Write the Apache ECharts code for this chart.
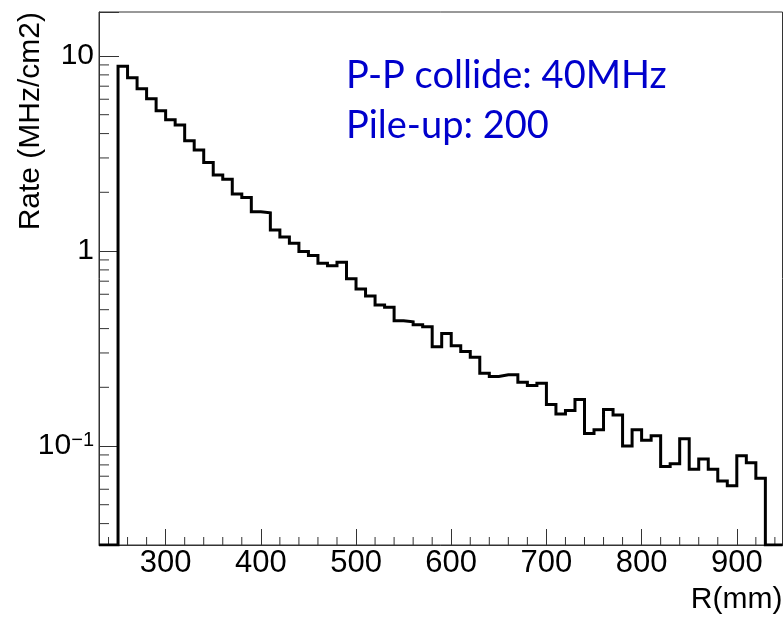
<!DOCTYPE html>
<html><head><meta charset="utf-8">
<script src="https://cdn.jsdelivr.net/npm/echarts@6/dist/echarts.min.js"></script>
<style>html,body{margin:0;padding:0;background:#fff}#c{width:784px;height:622px}</style>
</head><body><div id="c"></div>
<script>
// Bin lower edges (mm), bin width 10 mm
const binLow = [250,260,270,280,290,300,310,320,330,340,350,360,370,380,390,400,410,420,430,440,
  450,460,470,480,490,500,510,520,530,540,550,560,570,580,590,600,610,620,630,640,
  650,660,670,680,690,700,710,720,730,740,750,760,770,780,790,800,810,820,830,840,
  850,860,870,880,890,900,910,920];
const binWidth = 10;
// Rate (MHz/cm2) per bin
const rate = [8.85,7.74,6.8,6.04,5.24,4.71,4.43,3.68,3.30,2.84,2.45,2.33,1.96,1.88,1.59,1.57,1.28,1.18,1.095,0.993,
  0.947,0.865,0.841,0.875,0.721,0.638,0.588,0.528,0.514,0.439,0.433,0.419,0.409,0.323,0.377,0.327,0.305,0.285,0.236,0.227,
  0.232,0.232,0.212,0.204,0.210,0.163,0.146,0.152,0.173,0.116,0.121,0.154,0.144,0.100,0.121,0.107,0.113,0.0784,0.081,0.109,
  0.076,0.0857,0.076,0.0662,0.0626,0.089,0.082,0.0683];
const xRange = [230, 948];
const yRange = [0.03107, 16.81];
const xMinorTicks = [240,260,280,320,340,360,380,420,440,460,480,520,540,560,580,620,640,660,680,720,740,760,780,820,840,860,880,920,940];
const yMinorTicks = [0.04,0.05,0.06,0.07,0.08,0.09,0.2,0.3,0.4,0.5,0.6,0.7,0.8,0.9,2,3,4,5,6,7,8,9];
const annotation = ['P-P collide: 40MHz', 'Pile-up: 200'];
const xTitle = 'R(mm)';
const yTitle = 'Rate (MHz/cm2)';

const hist = [[xRange[0], yRange[0]], [binLow[0], yRange[0]]];
binLow.forEach((l, i) => { hist.push([l, rate[i]], [l + binWidth, rate[i]]); });
hist.push([binLow[binLow.length - 1] + binWidth, yRange[0]], [xRange[1], yRange[0]]);

const FONT = 'Liberation Sans';
const AX = '#333';
const chart = echarts.init(document.getElementById('c'), null, {renderer: 'canvas'});
chart.setOption({
  animation: false,
  backgroundColor: '#fff',
  grid: {left: 99, right: 1.5, top: 12, bottom: 77, show: true, borderColor: AX, borderWidth: 1, containLabel: false, outerBoundsMode: 'none'},
  xAxis: {
    type: 'value', min: xRange[0], max: xRange[1], minInterval: 100, maxInterval: 100,
    axisLine: {show: true, onZero: false, lineStyle: {color: AX, width: 1}},
    axisTick: {show: true, inside: true, length: 16, lineStyle: {color: AX, width: 1}},
    splitLine: {show: false},
    axisLabel: {showMinLabel: false, showMaxLabel: false, margin: 3, fontFamily: FONT, fontSize: 31, color: '#000',
      formatter: v => (v % 100 === 0 ? String(v) : '')},
    name: xTitle, nameLocation: 'end', nameGap: 0,
    nameTextStyle: {align: 'right', verticalAlign: 'top', padding: [40, 0, 0, 0], fontFamily: FONT, fontSize: 30, color: '#000'}
  },
  yAxis: {
    type: 'log', logBase: 10, min: yRange[0], max: yRange[1],
    axisLine: {show: true, lineStyle: {color: AX, width: 1}},
    axisTick: {show: true, inside: true, length: 20, lineStyle: {color: AX, width: 1}},
    splitLine: {show: false},
    axisLabel: {margin: 5, fontFamily: FONT, fontSize: 30, color: '#000',
      formatter: v => {
        const l = Math.log10(v); const e = Math.round(l);
        if (Math.abs(l - e) > 1e-6) return '';
        if (e === 0) return '1';
        if (e === 1) return '10';
        return '10{sup|\u2212' + (-e) + '}';
      },
      rich: {sup: {fontFamily: FONT, fontSize: 20, color: '#000', verticalAlign: 'top', padding: [0, 0, 12, 0]}}
    },
    name: yTitle, nameLocation: 'end', nameRotate: 90, nameGap: 0,
    nameTextStyle: {align: 'right', verticalAlign: 'bottom', padding: [0, 0, 53, 0], fontFamily: FONT, fontSize: 30, color: '#000'}
  },
  graphic: [
    {type: 'text', left: 346, top: 57, style: {text: annotation[0], fill: '#0000CC', font: '38px Lato'}},
    {type: 'text', left: 346, top: 107, style: {text: annotation[1], fill: '#0000CC', font: '38px Lato'}}
  ],
  series: [
    {type: 'custom', coordinateSystem: 'cartesian2d', silent: true, clip: false, z: 1,
      data: yMinorTicks.map(v => [xRange[0], v]),
      renderItem: (p, api) => { const pt = api.coord([api.value(0), api.value(1)]);
        return {type: 'line', shape: {x1: pt[0], y1: pt[1], x2: pt[0] + 10, y2: pt[1]}, style: {stroke: AX, lineWidth: 1}}; }},
    {type: 'custom', coordinateSystem: 'cartesian2d', silent: true, clip: false, z: 1,
      data: xMinorTicks.map(v => [v, yRange[0]]),
      renderItem: (p, api) => { const pt = api.coord([api.value(0), api.value(1)]);
        return {type: 'line', shape: {x1: pt[0], y1: pt[1], x2: pt[0], y2: pt[1] - 8}, style: {stroke: AX, lineWidth: 1}}; }},
    {type: 'line', data: hist, showSymbol: false, symbol: 'none', clip: true, z: 3,
      lineStyle: {color: '#000', width: 3, join: 'miter', cap: 'butt'}}
  ]
});
</script></body></html>
